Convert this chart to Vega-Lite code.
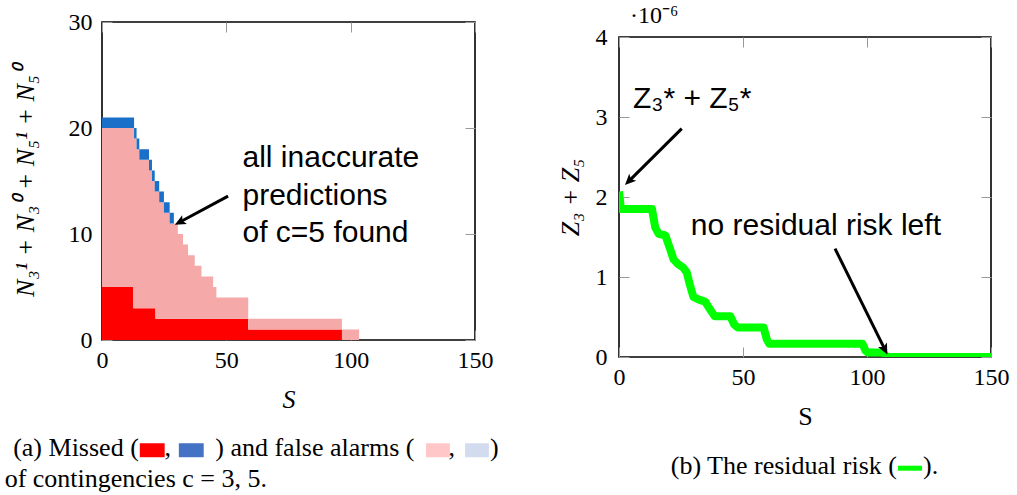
{
  "$schema": "https://vega.github.io/schema/vega-lite/v6.json",
  "background": "white",
  "padding": {"left": 3, "top": 3, "right": 5, "bottom": 0},
  "config": {
    "view": {"stroke": "#000", "strokeWidth": 1.6},
    "axis": {"labelFont": "Liberation Serif", "labelFontSize": 24, "labelColor": "#000", "titleFont": "Liberation Serif", "titleFontSize": 26, "titleColor": "#000", "titleFontWeight": "normal", "domain": false, "grid": false, "tickColor": "#999", "tickSize": -10, "tickWidth": 1, "labelPadding": 20, "labelFlush": false, "labelOverlap": false},
    "text": {"font": "Liberation Serif", "color": "#000"},
    "title": {"font": "Liberation Serif", "fontWeight": "normal", "color": "#000"}
  },
  "datasets": {
    "counts": [
      {"S": 0, "c3_missed": 5, "c3_spurious": 15, "c5_missed": 1},
      {"S": 12.6, "c3_missed": 3, "c3_spurious": 17, "c5_missed": 1},
      {"S": 12.9, "c3_missed": 3, "c3_spurious": 16, "c5_missed": 1},
      {"S": 13.9, "c3_missed": 3, "c3_spurious": 15, "c5_missed": 1},
      {"S": 15, "c3_missed": 3, "c3_spurious": 14, "c5_missed": 1},
      {"S": 18.9, "c3_missed": 3, "c3_spurious": 13, "c5_missed": 1},
      {"S": 20.1, "c3_missed": 3, "c3_spurious": 12, "c5_missed": 1},
      {"S": 21.2, "c3_missed": 3, "c3_spurious": 11, "c5_missed": 1},
      {"S": 21.5, "c3_missed": 2, "c3_spurious": 12, "c5_missed": 1},
      {"S": 23, "c3_missed": 2, "c3_spurious": 11, "c5_missed": 1},
      {"S": 24.9, "c3_missed": 2, "c3_spurious": 10, "c5_missed": 1},
      {"S": 27.2, "c3_missed": 2, "c3_spurious": 9, "c5_missed": 1},
      {"S": 28.9, "c3_missed": 2, "c3_spurious": 9, "c5_missed": 0},
      {"S": 30.5, "c3_missed": 2, "c3_spurious": 8, "c5_missed": 0},
      {"S": 32.6, "c3_missed": 2, "c3_spurious": 7, "c5_missed": 0},
      {"S": 34.6, "c3_missed": 2, "c3_spurious": 6, "c5_missed": 0},
      {"S": 37.3, "c3_missed": 2, "c3_spurious": 5, "c5_missed": 0},
      {"S": 40, "c3_missed": 2, "c3_spurious": 4, "c5_missed": 0},
      {"S": 44.7, "c3_missed": 2, "c3_spurious": 3, "c5_missed": 0},
      {"S": 46, "c3_missed": 2, "c3_spurious": 2, "c5_missed": 0},
      {"S": 58.8, "c3_missed": 1, "c3_spurious": 1, "c5_missed": 0},
      {"S": 96.5, "c3_missed": 0, "c3_spurious": 1, "c5_missed": 0},
      {"S": 103.4, "c3_missed": 0, "c3_spurious": 0, "c5_missed": 0}
    ],
    "risk": [
      {"S": 0, "Z": 2.07e-6},
      {"S": 0.8, "Z": 1.85e-6},
      {"S": 13.3, "Z": 1.85e-6},
      {"S": 14.6, "Z": 1.62e-6},
      {"S": 16, "Z": 1.54e-6},
      {"S": 18.7, "Z": 1.52e-6},
      {"S": 20.5, "Z": 1.36e-6},
      {"S": 22, "Z": 1.22e-6},
      {"S": 23.5, "Z": 1.17e-6},
      {"S": 25.8, "Z": 1.12e-6},
      {"S": 27.3, "Z": 1.06e-6},
      {"S": 28.6, "Z": 0.9e-6},
      {"S": 30, "Z": 0.75e-6},
      {"S": 32, "Z": 0.72e-6},
      {"S": 34.8, "Z": 0.69e-6},
      {"S": 36.6, "Z": 0.6e-6},
      {"S": 38.6, "Z": 0.51e-6},
      {"S": 44.9, "Z": 0.51e-6},
      {"S": 46.4, "Z": 0.41e-6},
      {"S": 47.8, "Z": 0.37e-6},
      {"S": 58.3, "Z": 0.37e-6},
      {"S": 59.6, "Z": 0.22e-6},
      {"S": 60.6, "Z": 0.165e-6},
      {"S": 98.2, "Z": 0.165e-6},
      {"S": 99.4, "Z": 0.08e-6},
      {"S": 100.4, "Z": 0.055e-6},
      {"S": 106.5, "Z": 0.055e-6},
      {"S": 108, "Z": 0},
      {"S": 150, "Z": 0}
    ],
    "one": [{}]
  },
  "bounds": "flush",
  "spacing": 144,
  "hconcat": [
    {
      "width": 373,
      "height": 318,
      "resolve": {"axis": {"x": "independent", "y": "independent"}},
      "layer": [
        {
          "data": {"name": "counts"},
          "transform": [{"fold": ["c3_missed", "c3_spurious", "c5_missed"], "as": ["series", "value"]}],
          "mark": {"type": "area", "interpolate": "step-after"},
          "encoding": {
            "x": {"field": "S", "type": "quantitative", "scale": {"domain": [0, 150], "nice": false},
                  "axis": {"orient": "bottom", "values": [0, 50, 100, 150], "title": "S", "titleFontStyle": "italic", "labelPadding": 18, "titlePadding": 14}},
            "y": {"field": "value", "type": "quantitative", "stack": "zero", "scale": {"domain": [0, 30], "nice": false},
                  "axis": {"orient": "left", "values": [0, 10, 20, 30], "title": "N₃¹ + N₃⁰ + N₅¹ + N₅⁰", "titleFontStyle": "italic", "titlePadding": 30}},
            "color": {"field": "series", "type": "nominal", "scale": {"domain": ["c3_missed", "c3_spurious", "c5_missed"], "range": ["#ff0000", "#f5a9a9", "#1a70c8"]}, "legend": null},
            "order": {"field": "series", "type": "nominal", "sort": "ascending"}
          }
        },
        {
          "data": {"name": "one"},
          "mark": {"type": "rule", "strokeWidth": 3, "color": "#000"},
          "encoding": {
            "x": {"datum": 50.7, "type": "quantitative", "axis": {"orient": "top", "values": [0, 50, 100, 150], "labels": false, "title": null}},
            "y": {"datum": 13.57, "type": "quantitative", "axis": {"orient": "right", "values": [0, 10, 20, 30], "labels": false, "title": null}},
            "x2": {"datum": 32.1},
            "y2": {"datum": 11.23}
          }
        },
        {
          "data": {"name": "one"},
          "mark": {"type": "point", "shape": "M0,0L-0.45,1L0,0.78L0.45,1Z", "filled": true, "color": "#000", "opacity": 1, "size": 484, "angle": 241.7},
          "encoding": {
            "x": {"datum": 29.3, "type": "quantitative", "axis": null},
            "y": {"datum": 10.87, "type": "quantitative", "axis": null}
          }
        },
        {
          "data": {"name": "one"},
          "mark": {"type": "text", "text": ["all inaccurate", "predictions", "of c=5 found"], "font": "Liberation Sans", "fontSize": 30, "align": "left", "baseline": "alphabetic", "lineHeight": 37.5},
          "encoding": {
            "x": {"datum": 56.5, "type": "quantitative", "axis": null},
            "y": {"datum": 16.3, "type": "quantitative", "axis": null}
          }
        },
        {
          "data": {"name": "one"},
          "mark": {"type": "text", "text": "(a) Missed (", "fontSize": 26, "align": "right", "baseline": "middle"},
          "encoding": {"x": {"datum": 14.8, "type": "quantitative", "axis": null}, "y": {"datum": -10.23, "type": "quantitative", "axis": null}}
        },
        {
          "data": {"name": "one"},
          "mark": {"type": "rect", "color": "#ff0000"},
          "encoding": {"x": {"datum": 15.2, "type": "quantitative", "axis": null}, "x2": {"datum": 25.2}, "y": {"datum": -9.74, "type": "quantitative", "axis": null}, "y2": {"datum": -11.06}}
        },
        {
          "data": {"name": "one"},
          "mark": {"type": "text", "text": ",", "fontSize": 26, "align": "center", "baseline": "middle"},
          "encoding": {"x": {"datum": 26.4, "type": "quantitative", "axis": null}, "y": {"datum": -10.23, "type": "quantitative", "axis": null}}
        },
        {
          "data": {"name": "one"},
          "mark": {"type": "rect", "color": "#4472c4"},
          "encoding": {"x": {"datum": 30.9, "type": "quantitative", "axis": null}, "x2": {"datum": 40.9}, "y": {"datum": -9.74, "type": "quantitative", "axis": null}, "y2": {"datum": -11.06}}
        },
        {
          "data": {"name": "one"},
          "mark": {"type": "text", "text": ") and false alarms (", "fontSize": 26, "align": "center", "baseline": "middle"},
          "encoding": {"x": {"datum": 85.6, "type": "quantitative", "axis": null}, "y": {"datum": -10.23, "type": "quantitative", "axis": null}}
        },
        {
          "data": {"name": "one"},
          "mark": {"type": "rect", "color": "#ffc7c7"},
          "encoding": {"x": {"datum": 130.3, "type": "quantitative", "axis": null}, "x2": {"datum": 139.9}, "y": {"datum": -9.74, "type": "quantitative", "axis": null}, "y2": {"datum": -11.06}}
        },
        {
          "data": {"name": "one"},
          "mark": {"type": "text", "text": ",", "fontSize": 26, "align": "center", "baseline": "middle"},
          "encoding": {"x": {"datum": 140.7, "type": "quantitative", "axis": null}, "y": {"datum": -10.23, "type": "quantitative", "axis": null}}
        },
        {
          "data": {"name": "one"},
          "mark": {"type": "rect", "color": "#d3dcef"},
          "encoding": {"x": {"datum": 146.0, "type": "quantitative", "axis": null}, "x2": {"datum": 155.6}, "y": {"datum": -9.74, "type": "quantitative", "axis": null}, "y2": {"datum": -11.06}}
        },
        {
          "data": {"name": "one"},
          "mark": {"type": "text", "text": ")", "fontSize": 26, "align": "left", "baseline": "middle"},
          "encoding": {"x": {"datum": 156.0, "type": "quantitative", "axis": null}, "y": {"datum": -10.23, "type": "quantitative", "axis": null}}
        },
        {
          "data": {"name": "one"},
          "mark": {"type": "text", "text": "of contingencies c = 3, 5.", "fontSize": 26, "align": "left", "baseline": "middle"},
          "encoding": {"x": {"datum": -39.15, "type": "quantitative", "axis": null}, "y": {"datum": -13.14, "type": "quantitative", "axis": null}}
        }
      ]
    },
    {
      "bounds": "flush",
      "spacing": 0,
      "vconcat": [
        {
          "width": 372,
          "height": 15,
          "view": {"stroke": null},
          "data": {"name": "one"},
          "mark": {"type": "text", "text": ""},
          "encoding": {}
        },
        {
          "width": 372,
          "height": 320,
          "resolve": {"axis": {"x": "independent", "y": "independent"}},
          "layer": [
            {
              "data": {"name": "risk"},
              "mark": {"type": "line", "color": "#00ff00", "strokeWidth": 8, "strokeJoin": "round", "clip": true},
              "encoding": {
                "x": {"field": "S", "type": "quantitative", "scale": {"domain": [0, 150], "nice": false},
                      "axis": {"orient": "bottom", "values": [0, 50, 100, 150], "title": "S", "labelPadding": 18, "titlePadding": 14}},
                "y": {"field": "Z", "type": "quantitative", "scale": {"domain": [0, 4e-6], "nice": false},
                      "axis": {"orient": "left", "values": [0, 1e-6, 2e-6, 3e-6, 4e-6], "labelExpr": "format(datum.value * 1e6, 'd')", "title": "Z₃ + Z₅", "titleFontStyle": "italic", "titlePadding": 12, "labelPadding": 22}}
              }
            },
            {
              "data": {"name": "one"},
              "mark": {"type": "rule", "strokeWidth": 3, "color": "#000"},
              "encoding": {
                "x": {"datum": 25.3, "type": "quantitative", "axis": {"orient": "top", "values": [0, 50, 100, 150], "labels": false, "title": null}},
                "y": {"datum": 2.855e-6, "type": "quantitative", "axis": {"orient": "right", "values": [0, 1e-6, 2e-6, 3e-6, 4e-6], "labels": false, "title": null}},
                "x2": {"datum": 4.7},
                "y2": {"datum": 2.22e-6}
              }
            },
            {
              "data": {"name": "one"},
              "mark": {"type": "point", "shape": "M0,0L-0.45,1L0,0.78L0.45,1Z", "filled": true, "color": "#000", "opacity": 1, "size": 484, "angle": 225},
              "encoding": {"x": {"datum": 2.4, "type": "quantitative", "axis": null}, "y": {"datum": 2.15e-6, "type": "quantitative", "axis": null}}
            },
            {
              "data": {"name": "one"},
              "mark": {"type": "rule", "strokeWidth": 3, "color": "#000"},
              "encoding": {"x": {"datum": 87.1, "type": "quantitative", "axis": null}, "y": {"datum": 1.355e-6, "type": "quantitative", "axis": null}, "x2": {"datum": 106.8}, "y2": {"datum": 0.12e-6}}
            },
            {
              "data": {"name": "one"},
              "mark": {"type": "point", "shape": "M0,0L-0.45,1L0,0.78L0.45,1Z", "filled": true, "color": "#000", "opacity": 1, "size": 484, "angle": 153.7},
              "encoding": {"x": {"datum": 108.2, "type": "quantitative", "axis": null}, "y": {"datum": 0.03e-6, "type": "quantitative", "axis": null}}
            },
            {
              "data": {"name": "one"},
              "mark": {"type": "text", "text": "·10⁻⁶", "fontSize": 24, "align": "left", "baseline": "middle"},
              "encoding": {"x": {"datum": 4.4, "type": "quantitative", "axis": null}, "y": {"datum": 4.26e-6, "type": "quantitative", "axis": null}}
            },
            {
              "data": {"name": "one"},
              "mark": {"type": "text", "text": "Z₃* + Z₅*", "font": "Liberation Sans", "fontSize": 30, "align": "left", "baseline": "alphabetic"},
              "encoding": {"x": {"datum": 5.6, "type": "quantitative", "axis": null}, "y": {"datum": 3.11e-6, "type": "quantitative", "axis": null}}
            },
            {
              "data": {"name": "one"},
              "mark": {"type": "text", "text": "no residual risk left", "font": "Liberation Sans", "fontSize": 30, "align": "center", "baseline": "alphabetic"},
              "encoding": {"x": {"datum": 79.4, "type": "quantitative", "axis": null}, "y": {"datum": 1.52e-6, "type": "quantitative", "axis": null}}
            },
            {
              "data": {"name": "one"},
              "mark": {"type": "text", "text": "(b) The residual risk (", "fontSize": 26, "align": "right", "baseline": "middle"},
              "encoding": {"x": {"datum": 112.1, "type": "quantitative", "axis": null}, "y": {"datum": -1.366e-6, "type": "quantitative", "axis": null}}
            },
            {
              "data": {"name": "one"},
              "mark": {"type": "rule", "strokeWidth": 5, "color": "#00ff00"},
              "encoding": {"x": {"datum": 112.5, "type": "quantitative", "axis": null}, "x2": {"datum": 122.2}, "y": {"datum": -1.39e-6, "type": "quantitative", "axis": null}}
            },
            {
              "data": {"name": "one"},
              "mark": {"type": "text", "text": ").", "fontSize": 26, "align": "left", "baseline": "middle"},
              "encoding": {"x": {"datum": 122.6, "type": "quantitative", "axis": null}, "y": {"datum": -1.366e-6, "type": "quantitative", "axis": null}}
            }
          ]
        }
      ]
    }
  ]
}
